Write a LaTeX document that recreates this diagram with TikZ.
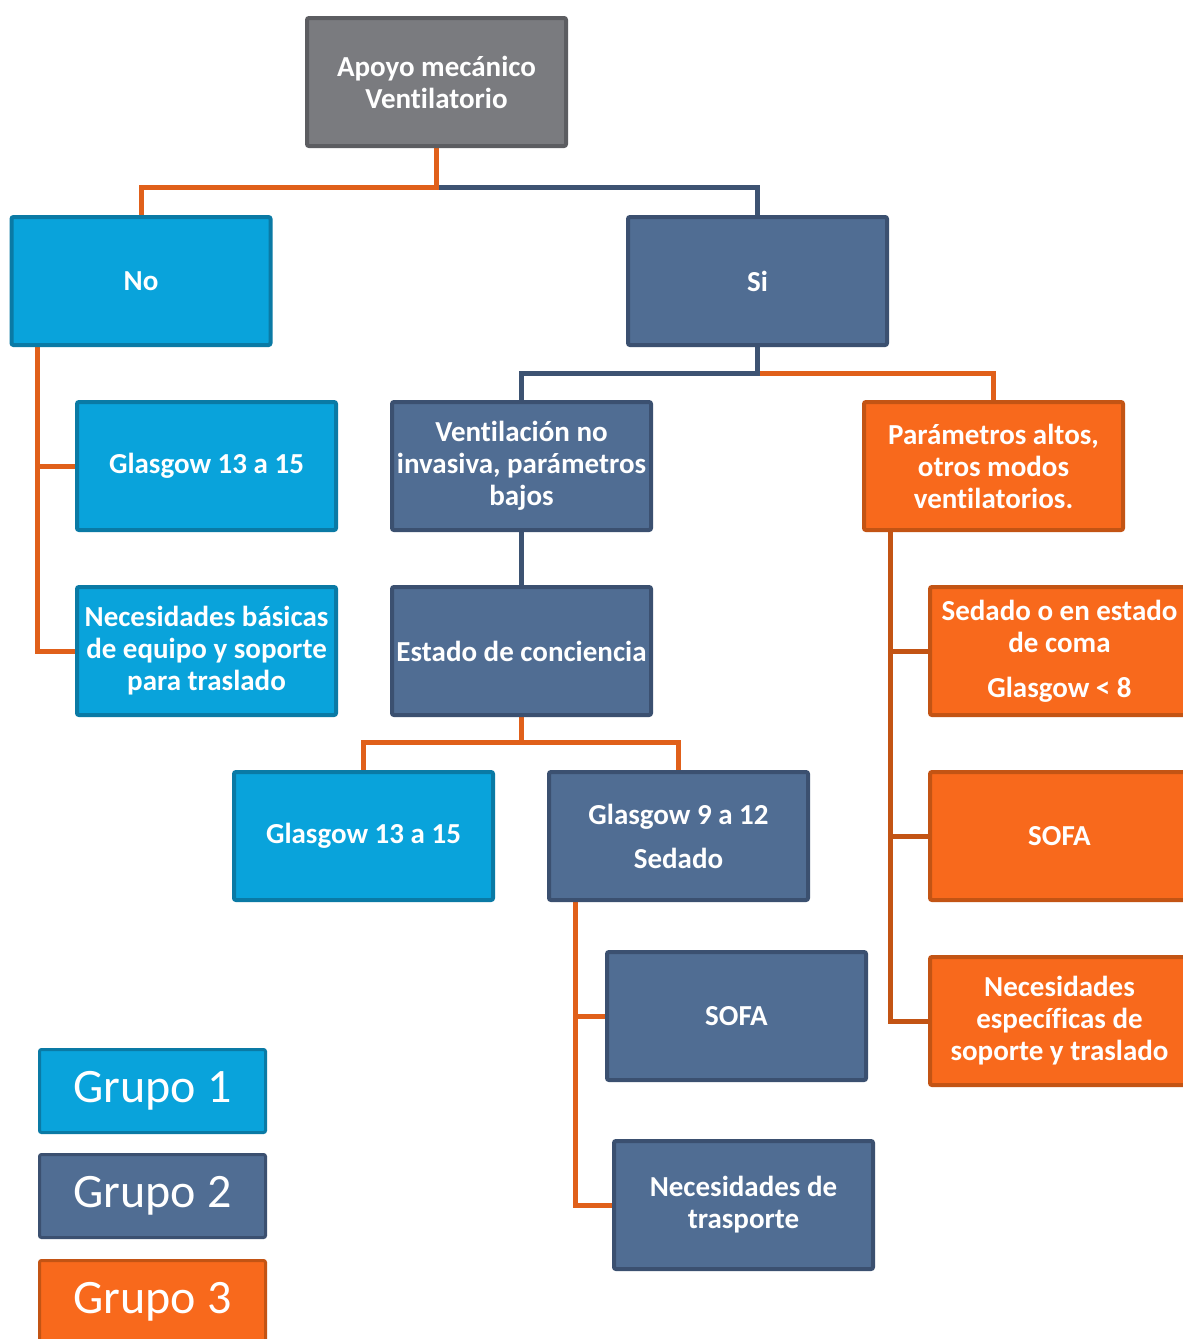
\documentclass[tikz,border=0pt]{standalone}
\usepackage{fontspec}
\setmainfont{Carlito}[Ligatures=CommonOff]
\usetikzlibrary{calc}
\pgfdeclarelayer{bg}
\pgfdeclarelayer{paper}
\pgfsetlayers{paper,bg,main}
\definecolor{grayF}{HTML}{7A7B7F}
\definecolor{grayD}{HTML}{5C5D61}
\definecolor{cyanF}{HTML}{09A3DB}
\definecolor{cyanD}{HTML}{0A7AA5}
\definecolor{slateF}{HTML}{506D93}
\definecolor{slateD}{HTML}{3B5070}
\definecolor{orangeF}{HTML}{F8691C}
\definecolor{orangeD}{HTML}{C35414}
\definecolor{orangeL}{HTML}{E0601A}
\definecolor{slateL}{HTML}{3D5372}
\begin{document}
\begin{tikzpicture}[x=1pt,y=-1pt,
  box/.style={draw, line width=4pt, rounded corners=2pt, minimum width=259pt, minimum height=128pt,
    inner sep=0pt, align=center, text=white, font=\fontsize{29}{32}\selectfont\bfseries},
  gbox/.style={box, fill=grayF, draw=grayD},
  cbox/.style={box, fill=cyanF, draw=cyanD},
  sbox/.style={box, fill=slateF, draw=slateD},
  obox/.style={box, fill=orangeF, draw=orangeD},
  legend/.style={draw, line width=3pt, rounded corners=2pt, minimum width=226pt, minimum height=83pt,
    inner sep=0pt, text=white, font=\fontsize{48}{54}\selectfont},
  oc/.style={draw=orangeL, line width=5pt},
  odc/.style={draw=orangeD, line width=5pt},
  sc/.style={draw=slateL, line width=5pt}]
\useasboundingbox (0,0) rectangle (1183,1339);
\begin{pgfonlayer}{paper}
\fill[white] (0,0) rectangle (1183,1339);
\end{pgfonlayer}

\node[gbox] (top) at (436.5,82) {Apoyo mecánico\\Ventilatorio};
\node[cbox] (no) at (141,281) {No};
\node[sbox] (si) at (757.5,281) {Si};
\node[cbox] (ga) at (206.5,466) {Glasgow 13 a 15};
\node[cbox] (nbas) at (206.5,651) {Necesidades básicas\\de equipo y soporte\\para traslado};
\node[sbox] (vent) at (521.5,466) {Ventilación no\\invasiva, parámetros\\bajos};
\node[sbox] (est) at (521.5,651) {Estado de conciencia};
\node[obox] (par) at (993.5,466) {Parámetros altos,\\otros modos\\ventilatorios.};
\node[obox] (sed) at (1059.5,651) {Sedado o en estado\\de coma\\[13pt]Glasgow < 8};
\node[obox] (sofaR) at (1059.5,836) {SOFA};
\node[obox] (nesp) at (1059.5,1021) {Necesidades\\específicas de\\soporte y traslado};
\node[cbox] (gb) at (363.5,836) {Glasgow 13 a 15};
\node[sbox] (gn) at (678.5,836) {Glasgow 9 a 12\\[12pt]Sedado};
\node[sbox] (sofaM) at (736.5,1016) {SOFA};
\node[sbox] (ntr) at (743.5,1205) {Necesidades de\\trasporte};

\node[legend, fill=cyanF, draw=cyanD] (l1) at (152.5,1091) {\raisebox{-3pt}{Grupo 1}};
\node[legend, fill=slateF, draw=slateD] (l2) at (152.5,1196) {\raisebox{-3pt}{Grupo 2}};
\node[legend, fill=orangeF, draw=orangeD] (l3) at (152.5,1302) {\raisebox{-3pt}{Grupo 3}};

\begin{pgfonlayer}{bg}
\coordinate (j1) at ($(top.south)+(0,39)$);
\draw[sc] (j1) -| (si.north);
\draw[oc] (top.south) -- (j1) -| (no.north);
\draw[oc] ($(no.south west)+(28,0)$) |- (nbas.west);
\draw[oc] ($(no.south west)+(28,0)$) |- (ga.west);
\coordinate (j2) at ($(si.south)+(0,26)$);
\draw[oc] (j2) -| (par.north);
\draw[sc] (si.south) -- (j2) -| (vent.north);
\draw[sc] (vent.south) -- (est.north);
\coordinate (j3) at ($(est.south)+(0,25)$);
\draw[oc] (est.south) -- (j3) -| (gb.north);
\draw[oc] (j3) -| (gn.north);
\draw[oc] ($(gn.south west)+(28,0)$) |- (ntr.west);
\draw[oc] ($(gn.south west)+(28,0)$) |- (sofaM.west);
\draw[odc] ($(par.south west)+(28,0)$) |- (nesp.west);
\draw[odc] ($(par.south west)+(28,0)$) |- (sofaR.west);
\draw[odc] ($(par.south west)+(28,0)$) |- (sed.west);
\end{pgfonlayer}
\end{tikzpicture}
\end{document}
